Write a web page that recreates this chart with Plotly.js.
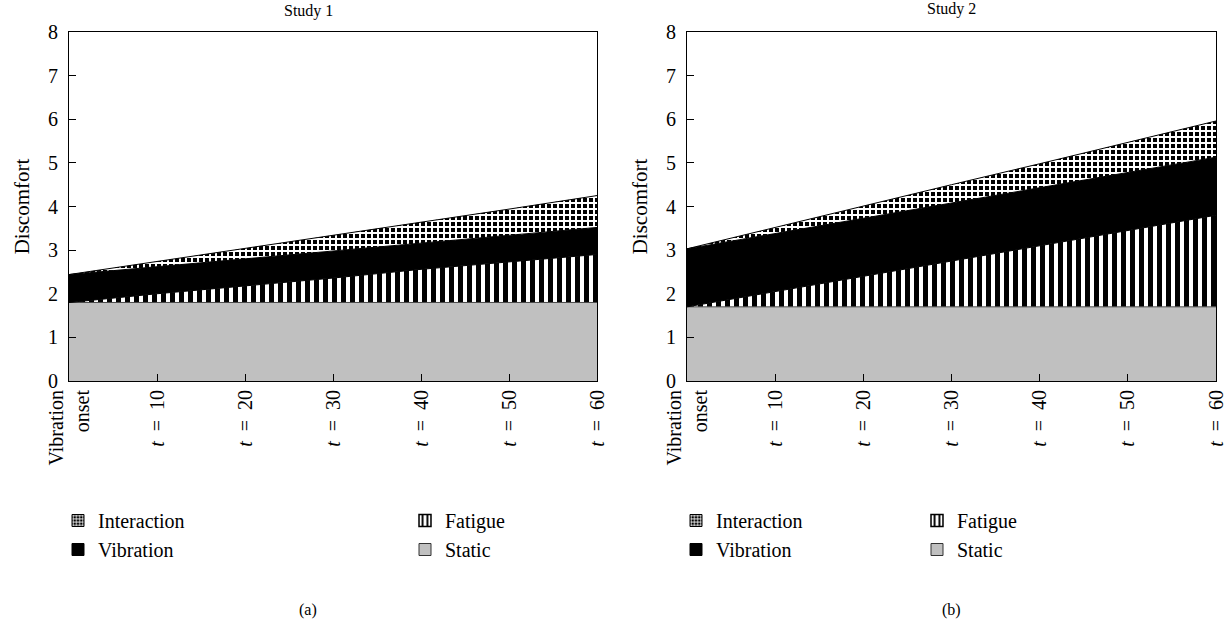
<!DOCTYPE html>
<html>
<head>
<meta charset="utf-8">
<script src="https://cdn.plot.ly/plotly-3.0.1.min.js"></script>
<style>html,body{margin:0;padding:0;background:#fff;}#chart{width:1230px;height:634px;}</style>
</head>
<body>
<div id="chart"></div>
<script>
// ---- data ----
const time = [0, 10, 20, 30, 40, 50, 60];
const tickLabels = ['Vibration<br>onset', '<i>t</i>  =  10', '<i>t</i>  =  20', '<i>t</i>  =  30', '<i>t</i>  =  40', '<i>t</i>  =  50', '<i>t</i>  =  60'];
const componentNames = ['Static', 'Fatigue', 'Vibration', 'Interaction'];
const panelTitles = ['Study 1', 'Study 2'];
const panelLabels = ['(a)', '(b)'];
const yTitle = 'Discomfort';

// Study 1 (stacked increments)
const static1      = [1.80, 1.80, 1.80, 1.80, 1.80, 1.80, 1.80];
const fatigue1     = [0.00, 0.20, 0.38, 0.56, 0.76, 0.93, 1.10];
const vibration1   = [0.64, 0.62, 0.61, 0.62, 0.60, 0.61, 0.62];
const interaction1 = [0.00, 0.12, 0.24, 0.36, 0.48, 0.60, 0.73];

// Study 2 (stacked increments)
const static2      = [1.70, 1.70, 1.70, 1.70, 1.70, 1.70, 1.70];
const fatigue2     = [0.00, 0.35, 0.70, 1.06, 1.40, 1.75, 2.10];
const vibration2   = [1.33, 1.33, 1.34, 1.32, 1.33, 1.33, 1.33];
const interaction2 = [0.00, 0.14, 0.28, 0.42, 0.55, 0.69, 0.83];

// ---- styles ----
const FONT = 'Liberation Serif';
const styles = {
  Static:      {fillcolor: '#c0c0c0', line: '#4a4a4a', pattern: null,
                legendMarker: {color: '#c0c0c0', line: {color: '#333', width: 1}}},
  Fatigue:     {fillcolor: 'white', line: 'black',
                pattern: {shape: '|', fgcolor: 'black', bgcolor: 'white', size: 9, solidity: 0.55},
                legendMarker: {color: 'white', line: {color: 'black', width: 1.5},
                  pattern: {shape: '|', fgcolor: 'black', bgcolor: 'white', size: 6, solidity: 0.4}}},
  Vibration:   {fillcolor: 'black', line: 'black', pattern: null,
                legendMarker: {color: 'black', line: {color: 'black', width: 1}}},
  Interaction: {fillcolor: 'black', line: 'black',
                pattern: {shape: '+', fgcolor: 'white', bgcolor: 'black', size: 6, solidity: 0.55},
                legendMarker: {color: 'black', line: {color: 'black', width: 1},
                  pattern: {shape: '+', fgcolor: 'white', bgcolor: 'black', size: 4, solidity: 0.45}}}
};

const panels = [
  {xa: 'x', ya: 'y', stack: 's1', series: [static1, fatigue1, vibration1, interaction1], legends: ['legend', 'legend2']},
  {xa: 'x2', ya: 'y2', stack: 's2', series: [static2, fatigue2, vibration2, interaction2], legends: ['legend3', 'legend4']}
];

const traces = [];
panels.forEach(p => {
  componentNames.forEach((name, i) => {
    const st = styles[name];
    const tr = {
      type: 'scatter', x: time, y: p.series[i], xaxis: p.xa, yaxis: p.ya,
      mode: 'lines', stackgroup: p.stack, line: {color: st.line, width: 1},
      fillcolor: st.fillcolor, showlegend: false, hoverinfo: 'skip', name: name
    };
    if (st.pattern) tr.fillpattern = st.pattern;
    traces.push(tr);
  });
  // legend entries: column 1 = Interaction, Vibration ; column 2 = Fatigue, Static
  const cols = [['Interaction', 'Vibration'], ['Fatigue', 'Static']];
  cols.forEach((col, ci) => {
    col.forEach(name => {
      traces.push({
        type: 'bar', x: [null], y: [null], xaxis: p.xa, yaxis: p.ya, name: name,
        marker: styles[name].legendMarker, legend: p.legends[ci], legendgroup: p.stack + name,
        hoverinfo: 'skip'
      });
    });
  });
});

const W = 1230, H = 634;
const axisCommon = {
  showline: true, mirror: true, linecolor: 'black', linewidth: 1,
  ticks: 'inside', ticklen: 7, tickcolor: 'black', tickwidth: 1,
  showgrid: false, zeroline: false, fixedrange: true,
  tickfont: {family: FONT, size: 20, color: 'black'}
};
const xCommon = Object.assign({}, axisCommon, {
  range: [0, 60], tickmode: 'array', tickvals: time, ticktext: tickLabels, tickangle: -90
});
const yCommon = Object.assign({}, axisCommon, {
  range: [0, 8], dtick: 1, ticklabelstandoff: 6,
  title: {text: yTitle, font: {family: FONT, size: 21, color: 'black'}, standoff: 12}
});

const yDom = [1 - 381 / H, 1 - 32 / H];
const legY = 1 - 501 / H;
function leg(x) {
  return {font: {family: FONT, size: 20, color: 'black'}, bgcolor: 'rgba(0,0,0,0)',
    orientation: 'v', xanchor: 'left', yanchor: 'top', tracegroupgap: 0, itemwidth: 30, x: x, y: legY};
}
function ann(text, xpx, ypx) {
  return {text: text, x: xpx / W, y: 1 - ypx / H, xanchor: 'center', yanchor: 'middle',
    xref: 'paper', yref: 'paper', showarrow: false, font: {family: FONT, size: 16, color: 'black'}};
}

const layout = {
  width: W, height: H, margin: {l: 0, r: 0, t: 0, b: 0},
  font: {family: FONT, color: 'black'},
  paper_bgcolor: 'white', plot_bgcolor: 'white', showlegend: true,
  xaxis: Object.assign({}, xCommon, {domain: [69 / W, 597 / W], anchor: 'y'}),
  yaxis: Object.assign({}, yCommon, {domain: yDom, anchor: 'x'}),
  xaxis2: Object.assign({}, xCommon, {domain: [687 / W, 1216 / W], anchor: 'y2'}),
  yaxis2: Object.assign({}, yCommon, {domain: yDom, anchor: 'x2'}),
  legend:  leg(58 / W),
  legend2: leg(405 / W),
  legend3: leg(676 / W),
  legend4: leg(917 / W),
  annotations: [
    ann(panelTitles[0], 308, 11),
    ann(panelTitles[1], 952, 9),
    ann(panelLabels[0], 308, 610),
    ann(panelLabels[1], 952, 610)
  ]
};

Plotly.newPlot('chart', traces, layout, {staticPlot: true, displayModeBar: false});
</script>
</body>
</html>
